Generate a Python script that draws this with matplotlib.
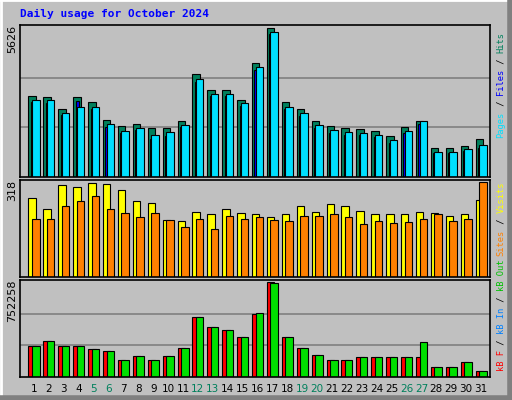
import numpy as np
import matplotlib
matplotlib.use("Agg")
import matplotlib.pyplot as plt
from matplotlib.lines import Line2D

days = list(range(1, 32))
weekends = [5, 6, 12, 13, 19, 20, 26, 27]

hits = [3070, 3035, 2554, 3035, 2813, 2147, 1925, 2000, 1850, 1850, 2110, 3886, 3294, 3294, 2924,
        4293, 5626, 2813, 2554, 2110, 1925, 1850, 1813, 1740, 1555, 1890, 2110, 1110, 1110, 1185, 1443]
files = [2920, 2890, 2400, 2640, 2660, 2000, 1740, 1850, 1600, 1700, 1960, 3700, 3150, 3150, 2780,
         4150, 5480, 2660, 2400, 1960, 1780, 1700, 1660, 1590, 1400, 1740, 2100, 960, 960, 1040, 1200]
pages = [2820, 2800, 2330, 2880, 2580, 1900, 1650, 1780, 1450, 1550, 1880, 3600, 3050, 3050, 2680,
         4050, 5400, 2560, 2300, 1860, 1680, 1600, 1580, 1500, 1300, 1650, 2000, 900, 900, 980, 1100]
visits = [263, 229, 308, 301, 315, 311, 291, 253, 246, 191, 188, 219, 212, 229, 215, 212,
          202, 209, 236, 219, 243, 239, 222, 212, 212, 212, 219, 215, 205, 212, 256]
sites = [195, 195, 236, 253, 270, 226, 215, 202, 215, 191, 168, 195, 161, 205, 195, 202,
         191, 188, 205, 205, 209, 202, 178, 188, 181, 185, 195, 212, 188, 195, 318]
kb_out = [248000, 287000, 248000, 248000, 225000, 209000, 132000, 163000, 132000, 163000, 233000,
          473000, 396000, 372000, 318000, 504000, 740000, 318000, 233000, 171000, 132000, 132000,
          155000, 155000, 155000, 155000, 279000, 78000, 78000, 116000, 47000]
kb_f = [248000, 287000, 248000, 248000, 225000, 209000, 132000, 163000, 132000, 163000, 233000,
        473000, 396000, 372000, 318000, 497000, 752258, 318000, 233000, 171000, 132000, 132000,
        155000, 155000, 155000, 155000, 155000, 78000, 78000, 116000, 47000]

W, H = 512, 400
GRAY = '#C0C0C0'
fig = plt.figure(figsize=(W / 100, H / 100), dpi=100, facecolor=GRAY)

def px(l, t, r, b):
    return [l / W, 1 - b / H, (r - l) / W, (b - t) / H]

# 3D border
fig.add_artist(Line2D([0, 1], [0.999, 0.999], color='white', lw=2, transform=fig.transFigure))
fig.add_artist(Line2D([0.001, 0.001], [0, 1], color='white', lw=2, transform=fig.transFigure))
fig.add_artist(Line2D([0, 1], [0.004, 0.004], color='#808080', lw=4, transform=fig.transFigure))
fig.add_artist(Line2D([0.996, 0.996], [0, 1], color='#808080', lw=4, transform=fig.transFigure))

fig.text(20 / W, 1 - 14 / H, 'Daily usage for October 2024', color='#0000FF', fontsize=8,
         fontweight='bold', family='DejaVu Sans Mono', va='center')

x = np.array(days)
panels = [
    (px(20, 25, 490, 177), 5626, '5626'),
    (px(20, 180, 490, 277), 318, '318'),
    (px(20, 280, 490, 377), 752258, '752258'),
]
axes = []
for rect, top, lab in panels:
    ax = fig.add_axes(rect, facecolor=GRAY)
    ax.set_xlim(0.06, 31.6)
    ax.set_ylim(0, top * 1.02)
    ax.set_xticks([])
    ax.set_yticks([])
    for s in ax.spines.values():
        s.set_linewidth(1.2)
    fig.text(12 / W, rect[1] + rect[3], lab, rotation=90, fontsize=8, ha='center', va='top')
    axes.append(ax)

ek = dict(edgecolor='black', linewidth=0.8)
ax1, ax2, ax3 = axes
for f in (1 / 3, 2 / 3):
    ax1.axhline(5626 * f, color='#808080', lw=1.2, zorder=0)
    ax3.axhline(752258 * f, color='#808080', lw=1.2, zorder=0)

ax1.bar(x - 0.12, hits, width=0.5, color='#00805C', **ek)
ax1.bar(x - 0.08, pages, width=0.25, color='#0000FF', **ek)
ax1.bar(x + 0.12, files, width=0.5, color='#00E0FF', **ek)

ax2.bar(x - 0.12, visits, width=0.5, color='#FFFF00', **ek)
ax2.bar(x + 0.12, sites, width=0.5, color='#FF8000', **ek)

ax3.bar(x - 0.12, kb_f, width=0.5, color='#FF0000', **ek)
ax3.bar(x + 0.12, kb_out, width=0.5, color='#00E000', **ek)

for d in days:
    ax3.text(d, -0.12, str(d), transform=ax3.get_xaxis_transform(), ha='center', va='center',
             fontsize=7.5, color='#00805C' if d in weekends else 'black')

# right side legends, built from the bottom up
adv = 5.3
def side_label(bottom_px, parts):
    y = bottom_px
    for txt, col in parts:
        n = len(txt)
        fig.text(501 / W, 1 - (y - n * adv / 2) / H, txt, rotation=90, color=col,
                 family='DejaVu Sans Mono', fontsize=6.3, ha='center', va='center')
        y -= n * adv

side_label(138, [('Pages', '#00E0FF'), (' / ', 'black'), ('Files', '#0000FF'),
                 (' / ', 'black'), ('Hits', '#00805C')])
side_label(256, [('Sites', '#FF8000'), (' / ', 'black'), ('Visits', '#FFFF00')])
side_label(371, [('kB F', '#FF0000'), (' / ', 'black'), ('kB In', '#0080FF'),
                 (' / ', 'black'), ('kB Out', '#00C000')])

fig.savefig('out.png', dpi=100, facecolor=GRAY)
